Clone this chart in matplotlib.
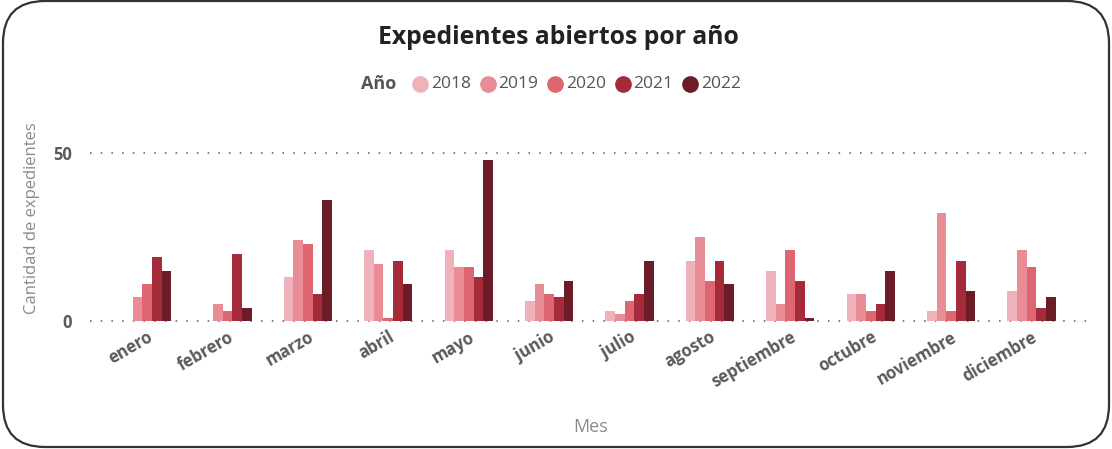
import matplotlib
matplotlib.use("Agg")
import matplotlib.pyplot as plt
import matplotlib.transforms as mtransforms
import numpy as np
from matplotlib.patches import FancyBboxPatch
from matplotlib.lines import Line2D

# data
months = ["enero", "febrero", "marzo", "abril", "mayo", "junio", "julio",
          "agosto", "septiembre", "octubre", "noviembre", "diciembre"]
years = ["2018", "2019", "2020", "2021", "2022"]
v2018 = [0, 0, 13, 21, 21, 6, 3, 18, 15, 8, 3, 9]
v2019 = [7, 5, 24, 17, 16, 11, 2, 25, 5, 8, 32, 21]
v2020 = [11, 3, 23, 1, 16, 8, 6, 12, 21, 3, 3, 16]
v2021 = [19, 20, 8, 18, 13, 7, 8, 18, 12, 5, 18, 4]
v2022 = [15, 4, 36, 11, 48, 12, 18, 11, 1, 15, 9, 7]
series = [v2018, v2019, v2020, v2021, v2022]
colors = ["#F0B2BA", "#E88C96", "#DE6670", "#A52A3A", "#6B1C26"]

plt.rcParams["font.family"] = ["Open Sans", "DejaVu Sans"]
GRAY = "#5a5a5a"

fig = plt.figure(figsize=(11.12, 4.49), dpi=100)
ax = fig.add_axes([90 / 1112, 128 / 449, 1005 / 1112, 168 / 449])

x = np.arange(len(months))
w = 0.12
for i, (vals, c) in enumerate(zip(series, colors)):
    ax.bar(x + (i - 2) * w, vals, width=w, color=c, linewidth=0, zorder=3)

ax.set_xlim(-0.71, 11.79)
ax.set_ylim(0, 50)
ax.set_yticks([0, 50])
ax.set_yticklabels(["0", "50"], fontsize=12, fontweight="bold", color=GRAY)
ax.set_xticks(x)
ax.set_xticklabels(months, rotation=30, ha="right", rotation_mode="anchor",
                   fontsize=12, fontweight="bold", color=GRAY)
# nudge the month labels a little left so they end just before the group centre
shift = mtransforms.ScaledTranslation(-7 / 100, -2 / 100, fig.dpi_scale_trans)
for lbl in ax.get_xticklabels():
    lbl.set_transform(lbl.get_transform() + shift)
ax.tick_params(axis="both", length=0)
ax.tick_params(axis="y", pad=13)
ax.tick_params(axis="x", pad=5)
for s in ax.spines.values():
    s.set_visible(False)
for yv in (0, 50):
    ax.axhline(yv, color="#555555", linewidth=1.1, dashes=(1, 6),
               zorder=1, clip_on=False)

ax.set_ylabel("Cantidad de expedientes", fontsize=12, color="#8a8a8a")
ax.yaxis.set_label_coords(-0.05, 0.61)
ax.set_xlabel("Mes", fontsize=13, color="#8a8a8a")
ax.xaxis.set_label_coords(0.498, -0.577)

fig.text(558 / 1112, 1 - 37 / 449, "Expedientes abiertos por año",
         fontsize=17.8, fontweight="bold", color="#222222",
         ha="center", va="center")

# legend drawn by hand: "Año" then a dot and a label per year
ly = 1 - 84 / 449
fig.text(361 / 1112, ly, "Año", fontsize=13, fontweight="bold",
         color="#555555", ha="left", va="center")
for i, (yr, c) in enumerate(zip(years, colors)):
    cx = (420 + i * 67.5) / 1112
    fig.add_artist(Line2D([cx], [ly], marker="o", markersize=11,
                          color=c, linestyle="none",
                          transform=fig.transFigure))
    fig.text(cx + 11 / 1112, ly, yr, fontsize=12.5, color="#555555",
             ha="left", va="center")

# rounded card border
border = FancyBboxPatch((0.03, 0.02), 11.06, 4.46,
                        boxstyle="round,pad=0,rounding_size=0.42",
                        transform=fig.dpi_scale_trans, fill=False,
                        edgecolor="#333333", linewidth=1.6)
fig.add_artist(border)

fig.savefig("out.png", dpi=100, facecolor="white")
